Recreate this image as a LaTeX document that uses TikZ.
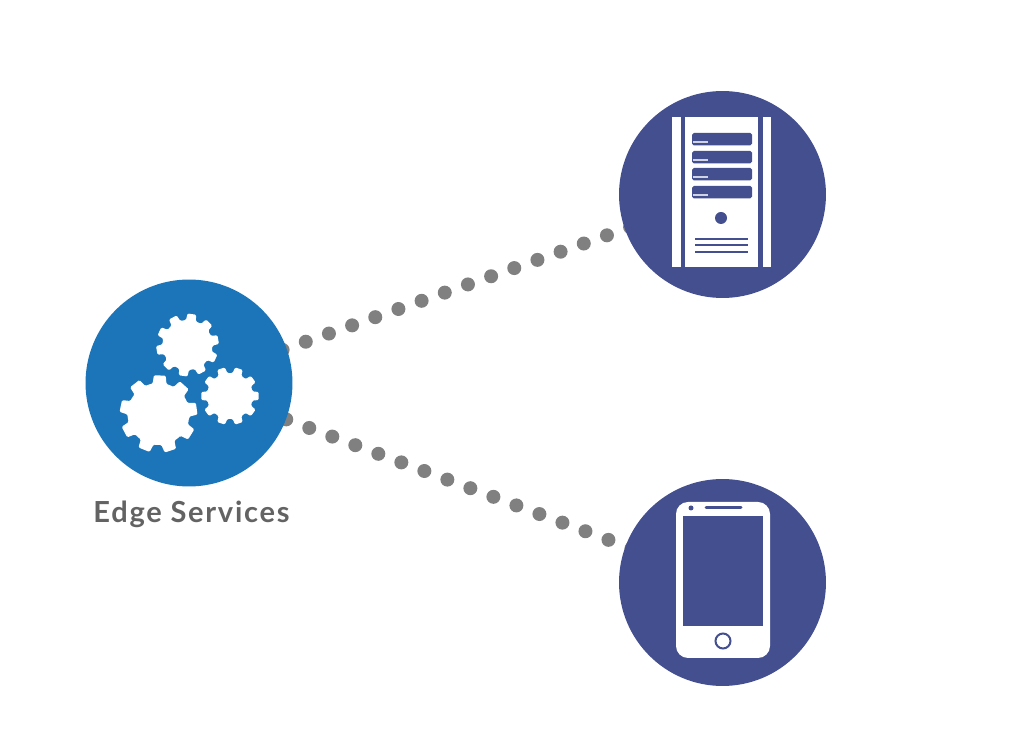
\documentclass[tikz,border=0pt]{standalone}
\usepackage{fontspec}
\setmainfont{Lato}
\newfontfamily\labelfont[LetterSpace=6]{Lato}
\usepackage{xcolor}
\usetikzlibrary{backgrounds}
\definecolor{edgeblue}{HTML}{1B75B8}
\definecolor{devblue}{HTML}{444F8F}
\definecolor{dotgray}{HTML}{808080}
\definecolor{labelgray}{HTML}{636363}
\tikzset{
    hub/.style={circle,fill=#1,draw=none,inner sep=0pt,minimum size=4.14cm},
    dotline/.style={draw=dotgray,line width=0.28cm,line cap=round,dash pattern=on 0pt off 0.4915cm},
    whitepart/.style={fill=white,draw=none},
    bluepart/.style={fill=devblue,draw=none}
}
% centre, inner radius, outer radius, number of teeth, start angle
\newcommand{\gearshape}[5]{
    \begin{scope}[shift={(#1)}]
        \fill[white,rounded corners=0.025cm] (#5:#2)
            \foreach \i [evaluate=\i as \a using #5+\i*360/#4] in {1,...,#4} {
                --(\a-0.82*360/#4:#2)--(\a-0.72*360/#4:#3)--(\a-0.28*360/#4:#3)--(\a-0.18*360/#4:#2)--(\a:#2)
            } --cycle;
    \end{scope}
}
\begin{document}
\begin{tikzpicture}[x=0.02cm,y=-0.02cm]
    \useasboundingbox (0,0) rectangle (1029,756);

    \node[hub=edgeblue] (edge) at (189,383) {};
    \node[hub=devblue] (server) at (722.5,194.5) {};
    \node[hub=devblue] (phone) at (722.5,582.5) {};
    \node[text=labelgray,font=\fontsize{16.5}{20}\labelfont\bfseries] (edgelabel) at (191.5,514) {Edge Services};

    \begin{scope}[on background layer]
        \draw[dotline,dash phase=-0.02cm] (edge.center)--(server.center);
        \draw[dotline,dash phase=0.38cm] (edge.center)--(phone.center);
    \end{scope}

    % gears
    \gearshape{158.5,414}{31}{39}{9}{12}
    \gearshape{187.5,345}{25}{31.5}{10}{8}
    \gearshape{230,396}{23}{29}{10}{18}

    % server
    \fill[whitepart] (672,117) rectangle (681,267);
    \fill[whitepart] (685,117) rectangle (758,267);
    \fill[whitepart] (763,117) rectangle (771,267);
    \foreach \y in {133,151,168,186} {
        \fill[bluepart,rounded corners=1pt] (692,\y) rectangle (752,\y+12.5);
        \draw[white!75!devblue,line width=0.03cm] (693,\y+9)--(708,\y+9);
    }
    \fill[bluepart] (721,218) circle (6);
    \foreach \y in {239,245.5,252}
        \draw[devblue,line width=0.04cm] (695,\y)--(748,\y);

    % phone
    \fill[whitepart,rounded corners=0.24cm] (676,502) rectangle (770,658);
    \fill[bluepart] (683,516) rectangle (763,626);
    \draw[devblue,line width=0.06cm,line cap=round] (706,508)--(741,508);
    \fill[bluepart] (691,508) circle (2.5);
    \draw[devblue,line width=0.04cm,fill=white] (723,641) circle (7.5);
\end{tikzpicture}
\end{document}
